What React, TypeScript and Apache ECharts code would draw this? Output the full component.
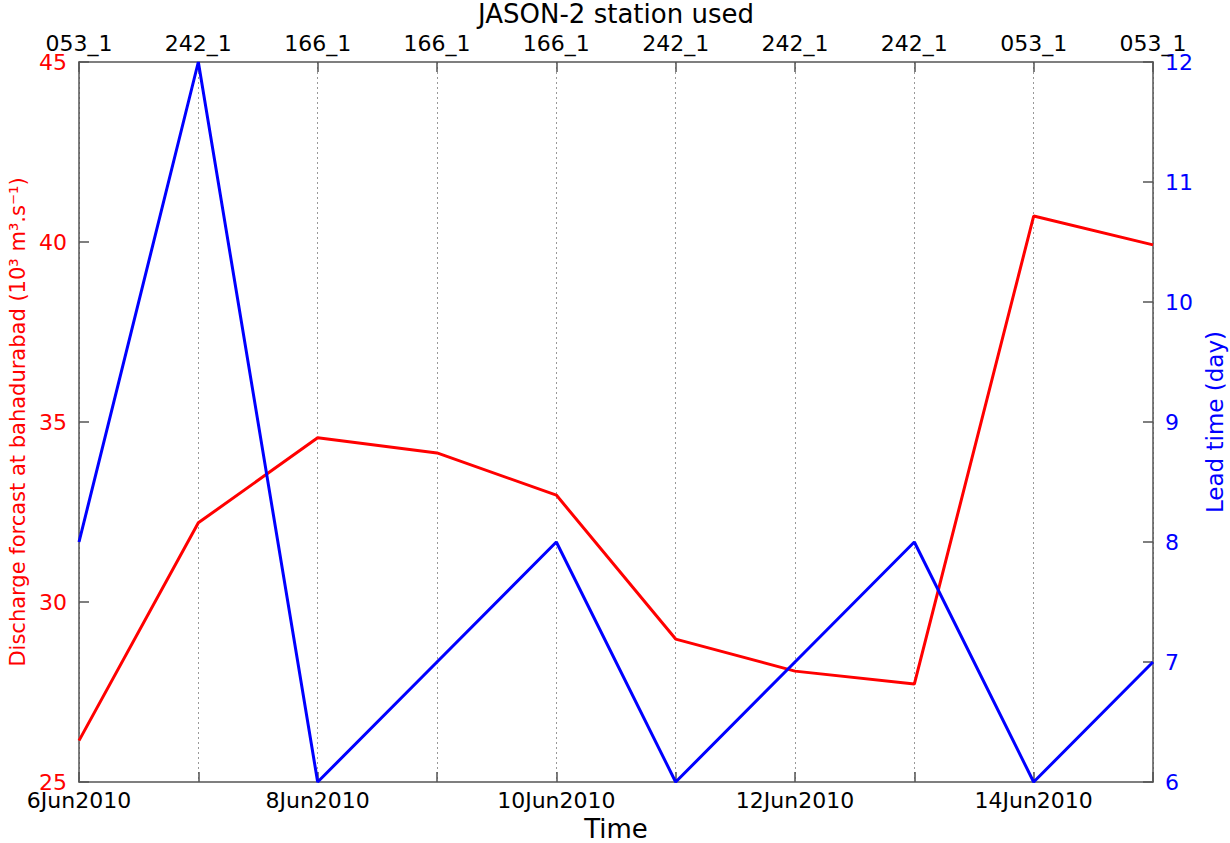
import React, { useEffect, useRef } from "react";
import * as echarts from "echarts";

const dates = ["6Jun2010", "7Jun2010", "8Jun2010", "9Jun2010", "10Jun2010", "11Jun2010", "12Jun2010", "13Jun2010", "14Jun2010", "15Jun2010"];
const stations = ["053_1", "242_1", "166_1", "166_1", "166_1", "242_1", "242_1", "242_1", "053_1", "053_1"];
const discharge = [26.15, 32.2, 34.56, 34.14, 32.97, 28.97, 28.08, 27.72, 40.72, 39.92];
const leadTime = [8, 12, 6, 7, 8, 6, 7, 8, 6, 7];

const FONT = "DejaVu Sans";
const AXIS_GRAY = "#555555";

export default function App() {
  const ref = useRef<HTMLDivElement>(null);
  useEffect(() => {
    if (!ref.current) return;
    const chart = echarts.init(ref.current, null, { renderer: "svg" });
    const axisLine = { show: true, lineStyle: { color: AXIS_GRAY, width: 1.5 } };
    const axisTick = { show: true, inside: true, length: 10, lineStyle: { color: AXIS_GRAY, width: 1.5 } };
    chart.setOption({
      animation: false,
      backgroundColor: "#ffffff",
      textStyle: { fontFamily: FONT },
      grid: { left: 79, right: 77, top: 62, bottom: 61, containLabel: false, outerBoundsMode: "none" },
      xAxis: [
        {
          type: "category",
          position: "bottom",
          data: dates,
          boundaryGap: false,
          name: "Time",
          nameLocation: "middle",
          nameGap: 32,
          nameTextStyle: { color: "#000", fontSize: 26, fontFamily: FONT },
          axisLine,
          axisTick: { ...axisTick, interval: 0 },
          axisLabel: { interval: 1, color: "#000", fontSize: 22, fontFamily: FONT, margin: 7 },
          splitLine: { show: true, interval: 0, lineStyle: { color: "#999999", type: [2, 3], width: 1 } },
        },
        {
          type: "category",
          position: "top",
          data: stations,
          boundaryGap: false,
          name: "JASON-2 station used",
          nameLocation: "middle",
          nameGap: 30,
          nameTextStyle: { color: "#000", fontSize: 26, fontFamily: FONT },
          axisLine,
          axisTick: { ...axisTick, interval: 0 },
          axisLabel: { interval: 0, color: "#000", fontSize: 22, fontFamily: FONT, margin: 8 },
          splitLine: { show: false },
        },
      ],
      yAxis: [
        {
          type: "value",
          position: "left",
          min: 25,
          max: 45,
          interval: 5,
          name: "Discharge forcast at bahadurabad (10³ m³.s⁻¹)",
          nameLocation: "middle",
          nameGap: 43,
          nameRotate: 90,
          nameTextStyle: { color: "#ff0000", fontSize: 21, fontFamily: FONT },
          axisLine,
          axisTick,
          axisLabel: { color: "#ff0000", fontSize: 22, fontFamily: FONT, margin: 12 },
          splitLine: { show: false },
        },
        {
          type: "value",
          position: "right",
          min: 6,
          max: 12,
          interval: 1,
          name: "Lead time (day)",
          nameLocation: "middle",
          nameGap: 45,
          nameRotate: 90,
          nameTextStyle: { color: "#0000ff", fontSize: 23, fontFamily: FONT },
          axisLine,
          axisTick,
          axisLabel: { color: "#0000ff", fontSize: 22, fontFamily: FONT, margin: 12 },
          splitLine: { show: false },
        },
      ],
      series: [
        {
          type: "line",
          xAxisIndex: 0,
          yAxisIndex: 0,
          data: discharge,
          showSymbol: false,
          symbol: "none",
          lineStyle: { color: "#ff0000", width: 3 },
          z: 3,
        },
        {
          type: "line",
          xAxisIndex: 0,
          yAxisIndex: 1,
          data: leadTime,
          showSymbol: false,
          symbol: "none",
          lineStyle: { color: "#0000ff", width: 3 },
          z: 4,
        },
      ],
    });
    return () => chart.dispose();
  }, []);
  return (
    <div
      ref={ref}
      style={{ position: "fixed", left: 0, top: 0, width: 1230, height: 843, background: "#fff" }}
    />
  );
}
